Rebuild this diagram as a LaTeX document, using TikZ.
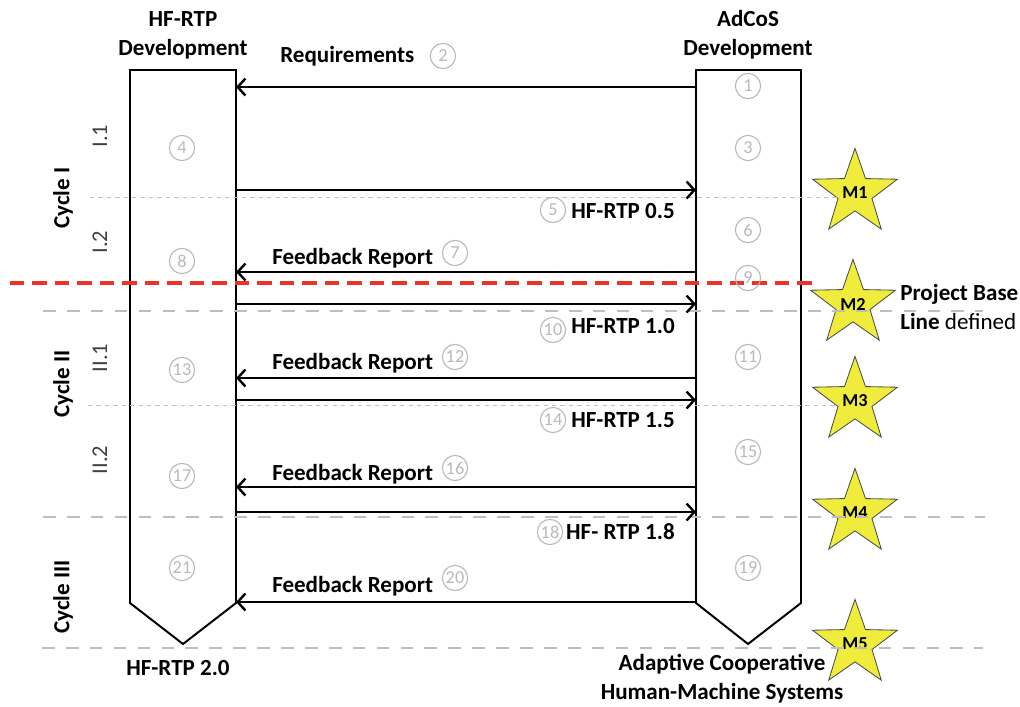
\documentclass[tikz,border=0pt]{standalone}
\usepackage{fontspec}
\setmainfont{Carlito}
\usetikzlibrary{arrows.meta,shapes.geometric}
\definecolor{milestone}{RGB}{240,236,60}
\definecolor{numgray}{RGB}{185,185,185}
\definecolor{sepgray}{RGB}{190,190,190}
\definecolor{basered}{RGB}{238,50,40}
\tikzset{
  lbl/.style={font=\fontsize{16.4}{20.5}\selectfont\bfseries, inner sep=0pt, align=center},
  sub/.style={font=\fontsize{16}{18}\selectfont, text=black!75, inner sep=0pt},
  num/.style={circle, draw=numgray, text=numgray, line width=0.8pt, minimum size=0.63cm, inner sep=0pt, font=\fontsize{13}{13}\selectfont},
  msg/.style={line width=1.7pt, -{Straight Barb[length=5.5pt,width=12pt]}},
  col/.style={line width=1.4pt},
  stone/.style={star, star points=5, star point ratio=2.5, minimum size=2.15cm, inner sep=0pt, draw=black!70, line width=0.6pt, fill=milestone, font=\fontsize{13}{13}\selectfont\bfseries},
  fine/.style={sepgray, line width=0.7pt, dash pattern=on 3pt off 3pt},
  phase/.style={sepgray, line width=2pt, dash pattern=on 9pt off 8pt}
}
\begin{document}
\begin{tikzpicture}[x=0.025cm,y=-0.025cm]
            \useasboundingbox (0,0) rectangle (1020,706);

            % the two development streams
            \draw[col] (130,70) -- (236,70) -- (236,603) -- (183,644) -- (130,603) -- cycle;
            \draw[col] (696,70) -- (801,70) -- (801,603) -- (748,644) -- (696,603) -- cycle;
            \node[lbl] (hf) at (183,35) {HF-RTP\\Development};
            \node[lbl] (ad) at (748,35) {AdCoS\\Development};
            \node[lbl] (hfo) at (178,668) {HF-RTP 2.0};
            \node[lbl] (ado) at (722,679) {Adaptive Cooperative\\Human-Machine Systems};

            % milestones
            \node[stone] (m1) at (855,193) {M1};
            \node[stone] (m2) at (853,304) {M2};
            \node[stone] (m3) at (855,401) {M3};
            \node[stone] (m4) at (855,513) {M4};
            \node[stone] (m5) at (855,644) {M5};
            \node[lbl, anchor=west, align=left] (pbl) at (900,307) {Project Base\\Line \mdseries defined};

            % cycle borders
            \draw[fine] (90,197) -- (838,197);
            \draw[fine] (88,405) -- (840,405);
            \draw[basered, line width=2.8pt, dash pattern=on 10pt off 6pt] (10,283) -- (818,283);
            \draw[phase] (43,311) -- (983,311);
            \draw[phase] (43,517) -- (985,517);
            \draw[phase] (42,648) -- (983,648);

            \node[lbl, rotate=90] (c1) at (63,198) {Cycle I};
            \node[lbl, rotate=90] (c2) at (63,384) {Cycle II};
            \node[lbl, rotate=90] (c3) at (63,597) {Cycle III};
            \node[sub, rotate=90] (c11) at (100,136) {I.1};
            \node[sub, rotate=90] (c12) at (100,242) {I.2};
            \node[sub, rotate=90] (c21) at (100,358) {II.1};
            \node[sub, rotate=90] (c22) at (100,460) {II.2};

            % message ends on both streams
            \foreach \n/\y in {a/87,b/190,c/272,d/304,e/378,f/400,g/487,h/512,i/602} {
                \coordinate (h\n) at (236,\y);
                \coordinate (a\n) at (696,\y);
            }
            \draw[msg] (aa) to (ha); \draw[msg] (hb) to (ab); \draw[msg] (ac) to (hc);
            \draw[msg] (hd) to (ad); \draw[msg] (ae) to (he); \draw[msg] (hf) to (af);
            \draw[msg] (ag) to (hg); \draw[msg] (hh) to (ah); \draw[msg] (ai) to (hi);

            \node[lbl, anchor=west] (req) at (280,56) {Requirements};
            \node[lbl, anchor=west] (fb1) at (272,258) {Feedback Report};
            \node[lbl, anchor=west] (fb2) at (272,363) {Feedback Report};
            \node[lbl, anchor=west] (fb3) at (272,474) {Feedback Report};
            \node[lbl, anchor=west] (fb4) at (272,586) {Feedback Report};
            \node[lbl, anchor=east] (r05) at (675,211) {HF-RTP 0.5};
            \node[lbl, anchor=east] (r10) at (675,326) {HF-RTP 1.0};
            \node[lbl, anchor=east] (r15) at (675,420) {HF-RTP 1.5};
            \node[lbl, anchor=east] (r18) at (675,532) {HF- RTP 1.8};

            % step numbers
            \foreach \t/\x/\y in {1/748/86, 3/748/148, 6/748/230, 9/748/278, 11/748/357, 15/748/452, 19/748/568,
                                  4/182/148, 8/182/261, 13/182/370, 17/182/476, 21/182/568,
                                  2/443/56, 7/455/253, 12/455/357, 16/455/468, 20/455/578,
                                  5/553/210, 10/553/330, 14/553/420, 18/550/532} {
                \node[num] (n\t) at (\x,\y) {\t};
            }
        \end{tikzpicture}
\end{document}
